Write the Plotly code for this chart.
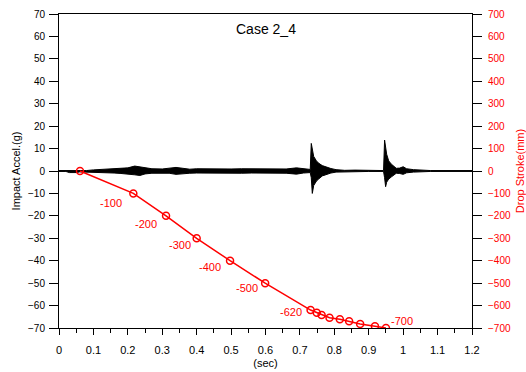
import plotly.graph_objects as go

# Acceleration trace envelope (g)
acc_t = [0.000, 0.020, 0.030, 0.050, 0.060, 0.080, 0.100, 0.120, 0.140, 0.160, 0.180, 0.200,
         0.220, 0.235, 0.250, 0.270, 0.300, 0.320, 0.340, 0.360, 0.380, 0.400, 0.430, 0.460,
         0.500, 0.530, 0.560, 0.600, 0.630, 0.660, 0.690, 0.710, 0.730, 0.733, 0.736, 0.740,
         0.748, 0.755, 0.765, 0.775, 0.790, 0.805, 0.830, 0.860, 0.900, 0.943, 0.946, 0.949,
         0.952, 0.958, 0.966, 0.980, 0.990, 1.000, 1.010, 1.030, 1.050, 1.080, 1.200]
acc_hi = [0.2, 0.2, 0.0, 0.0, 0.2, 0.2, 0.5, 0.7, 0.9, 0.8, 1.2, 1.4,
          2.2, 1.8, 1.2, 1.0, 0.9, 1.1, 1.6, 1.2, 0.8, 1.0, 0.9, 1.0,
          0.9, 1.0, 0.9, 1.0, 0.9, 0.9, 1.4, 0.9, 0.7, 12.3, 9.0, 6.5,
          4.5, 3.4, 2.4, 1.8, 1.1, 0.6, 0.3, 0.4, 0.2, 0.2, 13.8, 11.0,
          7.5, 4.5, 3.0, 1.2, 1.3, 1.9, 1.0, 0.6, 0.4, 0.2, 0.2]
acc_lo = [-0.2, -0.2, -0.7, -0.7, -0.4, -0.4, -0.5, -0.7, -0.8, -0.9, -1.1, -1.3,
          -1.7, -2.0, -1.3, -1.0, -0.9, -1.0, -1.5, -1.2, -1.0, -0.9, -1.0, -1.0,
          -0.9, -1.0, -0.9, -1.1, -0.9, -1.0, -1.4, -0.9, -0.7, -3.0, -10.0, -6.5,
          -4.5, -3.5, -2.2, -1.5, -0.9, -0.5, -0.2, -0.2, -0.2, -0.2, -3.0, -7.0,
          -5.0, -3.6, -2.6, -1.0, -1.1, -1.5, -0.8, -0.5, -0.3, -0.2, -0.2]

# Drop stroke (mm)
stroke_t = [0.061, 0.216, 0.311, 0.400, 0.497, 0.599, 0.731, 0.749, 0.763, 0.786,
            0.816, 0.843, 0.875, 0.918, 0.950]
stroke_mm = [0, -100, -200, -300, -400, -500, -620, -632, -642, -654,
             -661, -670, -682, -692, -700]

# labelled stroke points
lab_idx = [1, 2, 3, 4, 5, 6, 14]
lab_text = ["-100", "-200", "-300", "-400", "-500", "-620", "-700"]
lab_dx = [-22, -20, -17, -20, -18, -20, 16]
lab_dy = [-10, -8, -7, -6, -5, -2, 7]

y_ticks = list(range(-70, 71, 10))
y2_ticks = list(range(-700, 701, 100))
x_ticks = [round(i * 0.1, 1) for i in range(13)]
x_labels = ["0", "0.1", "0.2", "0.3", "0.4", "0.5", "0.6", "0.7", "0.8", "0.9", "1", "1.1", "1.2"]

fig = go.Figure()
fig.add_trace(go.Scatter(x=acc_t + acc_t[::-1], y=acc_hi + acc_lo[::-1],
                         fill="toself", fillcolor="black", mode="lines",
                         line=dict(color="black", width=1), hoverinfo="skip",
                         showlegend=False))
fig.add_trace(go.Scatter(x=stroke_t, y=stroke_mm, yaxis="y2", mode="lines+markers",
                         line=dict(color="#ff0000", width=1.5),
                         marker=dict(symbol="circle-open", size=7, color="#ff0000",
                                     line=dict(width=1.5, color="#ff0000")),
                         showlegend=False))

for i, txt, dx, dy in zip(lab_idx, lab_text, lab_dx, lab_dy):
    fig.add_annotation(x=stroke_t[i], y=stroke_mm[i], yref="y2", xref="x", text=txt,
                       showarrow=False, xshift=dx, yshift=dy,
                       font=dict(family="Arial, Liberation Sans", size=11, color="#ff0000"))

fig.add_annotation(x=0.5, y=0.985, xref="paper", yref="paper", text="Case 2_4",
                   showarrow=False, yanchor="top",
                   font=dict(family="Arial, Liberation Sans", size=14, color="black"))

font = dict(family="Arial, Liberation Sans", size=11, color="black")
fig.update_layout(
    width=526, height=372,
    margin=dict(l=59, r=54, t=14, b=44, autoexpand=False),
    paper_bgcolor="white", plot_bgcolor="white",
    font=font,
    xaxis=dict(range=[0, 1.2], tickvals=x_ticks, ticktext=x_labels, ticks="outside",
               ticklen=6, tickcolor="black", showline=True, linecolor="black",
               linewidth=1, mirror=True, showgrid=False, zeroline=False,
               ticklabelstandoff=6,
               minor=dict(dtick=0.05, tick0=0, ticks="outside", ticklen=4, tickcolor="black", showgrid=False),
               title=dict(text="(sec)", standoff=4, font=dict(size=11)),
               tickfont=dict(size=11)),
    yaxis=dict(range=[-70, 70], tickvals=y_ticks, ticks="outside", ticklen=9,
               tickcolor="black", showline=True, linecolor="black", linewidth=1,
               showgrid=False, zeroline=False, ticklabelstandoff=2,
               title=dict(text="Impact Accel.(g)", standoff=5, font=dict(size=11)),
               tickfont=dict(size=10)),
    yaxis2=dict(range=[-700, 700], tickvals=y2_ticks, overlaying="y", side="right",
                ticks="outside", ticklen=9, tickcolor="black", showline=True,
                linecolor="black", linewidth=1, showgrid=False, zeroline=False,
                ticklabelstandoff=4,
                tickfont=dict(size=10, color="#ff0000"),
                title=dict(text="Drop Stroke(mm)", standoff=9,
                           font=dict(size=11, color="#ff0000"))),
)

fig.write_html("out.html", config={"displayModeBar": False},
               post_script="document.body.style.margin='0';document.body.style.padding='0';")
